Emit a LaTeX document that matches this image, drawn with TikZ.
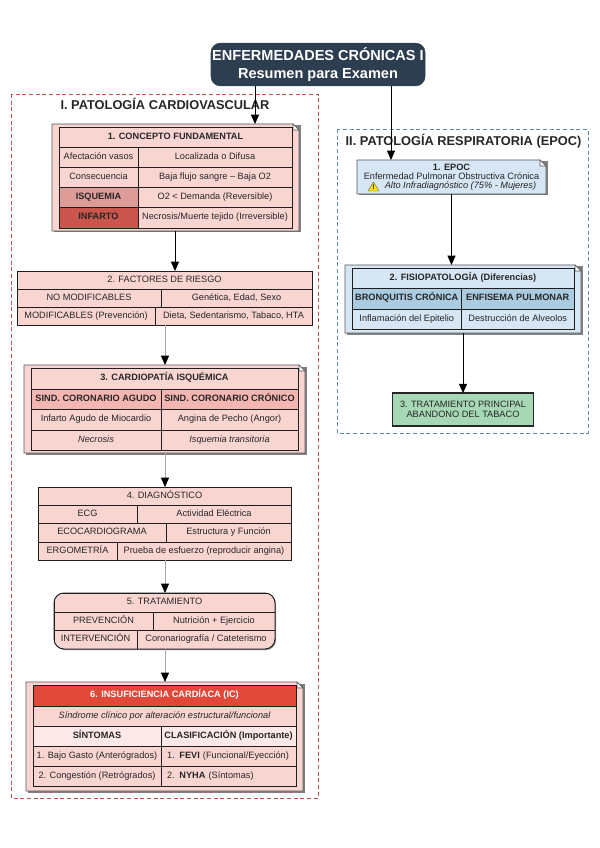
\documentclass[tikz,border=0pt]{standalone}
\usepackage{fontspec}
\setmainfont{Liberation Sans}
\usetikzlibrary{arrows.meta,calc}
\definecolor{navy}{HTML}{2C3E50}
\definecolor{redline}{HTML}{C0504D}
\definecolor{blueline}{HTML}{5B8FA8}
\definecolor{cellred}{HTML}{F9D5D2}
\definecolor{isq}{HTML}{DE9C98}
\definecolor{inf}{HTML}{C9554C}
\definecolor{headred}{HTML}{E2483A}
\definecolor{palered}{HTML}{FCE9E7}
\definecolor{headrose}{HTML}{F3B6B1}
\definecolor{cellblue}{HTML}{D6E6F4}
\definecolor{headblue}{HTML}{ABCBE0}
\definecolor{green1}{HTML}{A6D8B5}
\definecolor{edge}{HTML}{1E1E1E}
\newcommand{\fs}[1]{\fontsize{#1}{#1}\selectfont}
\tikzset{
  cellbox/.style={draw=edge,line width=0.6pt,inner sep=0pt,outer sep=0pt,align=center,text=black!85,text height=5pt,text depth=1.4pt},
  outerbox/.style={inner sep=0pt,outer sep=0pt},
  cluster/.style={dashed,dash pattern=on 3pt off 2pt,line width=0.6pt},
  arr/.style={line width=0.7pt,-{Triangle[length=7pt,width=6pt,black]}},
  arrg/.style={line width=0.6pt,black!35,-{Triangle[length=7pt,width=6pt,black]}},
  celltext/.style={font=\fs{6.9}},
  boldtext/.style={font=\fs{6.9}\bfseries},
  leftcell/.style={font=\fs{6.9},text width=92pt,align=left},
}
% \tcell[opts]{name}{x1}{y1}{x2}{y2}{fill}{text}
\newcommand{\tcell}[8][celltext]{%
  \pgfmathsetmacro{\cw}{(#5-#3)*0.75}\pgfmathsetmacro{\ch}{(#6-#4)*0.75}%
  \node[cellbox,#1,fill=#7,minimum width=\cw pt,minimum height=\ch pt] (#2) at ({(#3+#5)/2},{(#4+#6)/2}) {#8};}
% \notebox{name}{x1}{y1}{x2}{y2}{fill}
\newcommand{\notebox}[6]{%
  \pgfmathsetmacro{\cw}{(#4-#2)*0.75}\pgfmathsetmacro{\ch}{(#5-#3)*0.75}%
  \node[outerbox,minimum width=\cw pt,minimum height=\ch pt] (#1) at ({(#2+#4)/2},{(#3+#5)/2}) {};
  \fill[black!50] (#2+1.5,#3+1.5) rectangle (#4+1.5,#5+1.5);
  \draw[fill=#6,draw=black!65,line width=0.6pt] (#2,#3) -- (#4-6,#3) -- (#4,#3+6) -- (#4,#5) -- (#2,#5) -- cycle;
  \draw[draw=black!65,line width=0.4pt,fill=white] (#4-6,#3) -- (#4-6,#3+6) -- (#4,#3+6) -- cycle;}
% \plainbox{name}{x1}{y1}{x2}{y2}
\newcommand{\plainbox}[5]{%
  \pgfmathsetmacro{\cw}{(#4-#2)*0.75}\pgfmathsetmacro{\ch}{(#5-#3)*0.75}%
  \node[outerbox,minimum width=\cw pt,minimum height=\ch pt] (#1) at ({(#2+#4)/2},{(#3+#5)/2}) {};
  \fill[black!50] (#2+1,#3+1) rectangle (#4+1,#5+1);}
\begin{document}
\begin{tikzpicture}[x=0.75pt,y=-0.75pt]
\useasboundingbox (0,0) rectangle (599,848);
\fill[white] (0,0) rectangle (599,848);

% clusters
\draw[cluster,draw=redline] (11,94) rectangle (318,798);
\draw[cluster,draw=blueline] (337,129) rectangle (588,433);
\node[font=\fs{9.6}\bfseries,text=black!85,inner sep=0pt] (lefttitle) at (165,104) {I. PATOLOGÍA CARDIOVASCULAR};
\node[font=\fs{9.6}\bfseries,text=black!85,inner sep=0pt] (righttitle) at (463.5,141) {II. PATOLOGÍA RESPIRATORIA (EPOC)};

% title
\node[draw=navy,fill=navy,rounded corners=7pt,text=white,align=center,font=\fs{10.9}\bfseries,inner sep=0pt,outer sep=0pt,minimum width=160.5pt,minimum height=32pt] (title) at (318,64.5) {ENFERMEDADES CRÓNICAS I\\[2pt]Resumen para Examen};

% box 1
\notebox{boxa}{52}{124}{299}{231}{cellred}
\tcell[boldtext]{a0}{59}{127}{292}{147}{cellred}{1. CONCEPTO FUNDAMENTAL}
\tcell{a1}{59}{147}{138}{167}{cellred}{Afectación vasos}
\tcell{a2}{138}{147}{292}{167}{cellred}{Localizada o Difusa}
\tcell{a3}{59}{167}{138}{187}{cellred}{Consecuencia}
\tcell{a4}{138}{167}{292}{187}{cellred}{Baja flujo sangre – Baja O2}
\tcell[boldtext]{a5}{59}{187}{138}{207}{isq}{ISQUEMIA}
\tcell{a6}{138}{187}{292}{207}{cellred}{O2 < Demanda (Reversible)}
\tcell[boldtext]{a7}{59}{207}{138}{228}{inf}{INFARTO}
\tcell{a8}{138}{207}{292}{228}{cellred}{Necrosis/Muerte tejido (Irreversible)}

% box 2
\plainbox{boxb}{17}{271}{312}{325}
\tcell{b0}{17}{271}{312}{289}{cellred}{2. FACTORES DE RIESGO}
\tcell{b1}{17}{289}{161}{307}{cellred}{NO MODIFICABLES}
\tcell{b2}{161}{289}{312}{307}{cellred}{Genética, Edad, Sexo}
\tcell{b3}{17}{307}{155}{325}{cellred}{MODIFICABLES (Prevención)}
\tcell{b4}{155}{307}{312}{325}{cellred}{Dieta, Sedentarismo, Tabaco, HTA}

% box 3
\notebox{boxc}{24}{365}{305}{453}{cellred}
\tcell[boldtext]{c0}{31}{368}{298}{389}{cellred}{3. CARDIOPATÍA ISQUÉMICA}
\tcell[boldtext]{c1}{31}{389}{161}{409}{headrose}{SIND. CORONARIO AGUDO}
\tcell[boldtext]{c2}{161}{389}{298}{409}{headrose}{SIND. CORONARIO CRÓNICO}
\tcell{c3}{31}{409}{161}{430}{cellred}{Infarto Agudo de Miocardio}
\tcell{c4}{161}{409}{298}{430}{cellred}{Angina de Pecho (Angor)}
\tcell{c5}{31}{430}{161}{450}{cellred}{\itshape Necrosis}
\tcell{c6}{161}{430}{298}{450}{cellred}{\itshape Isquemia transitoria}

% box 4
\plainbox{boxd}{38}{487}{291}{560}
\tcell{d0}{38}{487}{291}{505}{cellred}{4. DIAGNÓSTICO}
\tcell{d1}{38}{505}{137}{523}{cellred}{ECG}
\tcell{d2}{137}{505}{291}{523}{cellred}{Actividad Eléctrica}
\tcell{d3}{38}{523}{166}{542}{cellred}{ECOCARDIOGRAMA}
\tcell{d4}{166}{523}{291}{542}{cellred}{Estructura y Función}
\tcell{d5}{38}{542}{117}{560}{cellred}{ERGOMETRÍA}
\tcell{d6}{117}{542}{291}{560}{cellred}{Prueba de esfuerzo (reproducir angina)}

% box 5
\fill[black!50,rounded corners=7.5pt] (55,594) rectangle (276,650);
\begin{scope}
\clip[rounded corners=7.5pt] (54,593) rectangle (275,649);
\tcell{e0}{54}{593}{275}{612}{cellred}{5. TRATAMIENTO}
\tcell{e1}{54}{612}{153}{630}{cellred}{PREVENCIÓN}
\tcell{e2}{153}{612}{275}{630}{cellred}{Nutrición + Ejercicio}
\tcell{e3}{54}{630}{137}{649}{cellred}{INTERVENCIÓN}
\tcell{e4}{137}{630}{275}{649}{cellred}{Coronariografía / Cateterismo}
\end{scope}
\node[draw=edge,line width=0.7pt,rounded corners=7.5pt,inner sep=0pt,outer sep=0pt,minimum width=165.75pt,minimum height=42pt] (boxe) at (164.5,621) {};

% box 6
\notebox{boxf}{26}{682}{303}{791}{cellred}
\tcell[font=\fs{6.9}\bfseries,text=white]{f0}{33}{685}{296}{706}{headred}{6. INSUFICIENCIA CARDÍACA (IC)}
\tcell{f1}{33}{706}{296}{726}{cellred}{\itshape Síndrome clínico por alteración estructural/funcional}
\tcell[boldtext]{f2}{33}{726}{161}{746}{palered}{SÍNTOMAS}
\tcell[boldtext]{f3}{161}{726}{296}{746}{palered}{CLASIFICACIÓN (Importante)}
\tcell{f4}{33}{746}{161}{766}{cellred}{1. Bajo Gasto (Anterógrados)}
\tcell[leftcell]{f5}{161}{746}{296}{766}{cellred}{1. \textbf{FEVI} (Funcional/Eyección)}
\tcell{f6}{33}{766}{161}{786}{cellred}{2. Congestión (Retrógrados)}
\tcell[leftcell]{f7}{161}{766}{296}{786}{cellred}{2. \textbf{NYHA} (Síntomas)}

% EPOC
\notebox{epoc}{357}{160}{546}{194}{cellblue}
\node[inner sep=0pt,align=center,font=\fs{6.9},text=black!85] (epoct) at (451.5,177) {\textbf{1. EPOC}\\[-0.2pt]Enfermedad Pulmonar Obstructiva Crónica\\[-0.2pt]\hspace*{13.5pt}\itshape Alto Infradiagnóstico (75\% - Mujeres)};
\draw[fill=yellow!85!orange,draw=black!60,line width=0.3pt,line join=round] (368,191) -- (373.5,182) -- (379,191) -- cycle;
\node[inner sep=0pt,font=\fs{5}\bfseries] (warn) at (373.5,187.5) {!};

% Fisiopatologia
\notebox{fisio}{345}{265}{581}{333}{cellblue}
\tcell[boldtext]{g0}{352}{268}{574}{288}{cellblue}{2. FISIOPATOLOGÍA (Diferencias)}
\tcell[boldtext]{g1}{352}{288}{461.5}{309}{headblue}{BRONQUITIS CRÓNICA}
\tcell[boldtext]{g2}{461.5}{288}{574}{309}{headblue}{ENFISEMA PULMONAR}
\tcell{g3}{352}{309}{461.5}{329}{cellblue}{Inflamación del Epitelio}
\tcell{g4}{461.5}{309}{574}{329}{cellblue}{Destrucción de Alveolos}

% Tratamiento
\node[draw=black!85,fill=green1,line width=1.1pt,inner sep=0pt,outer sep=0pt,align=center,font=\fs{6.9},text=black!85,minimum width=106pt,minimum height=24.5pt] (trat) at (463,409.5) {3. TRATAMIENTO PRINCIPAL\\[1pt]ABANDONO DEL TABACO};

% connector anchors
\coordinate (xa) at (255,0);
\coordinate (xb) at (175,0);
\coordinate (xc) at (165,0);
\coordinate (xd) at (391,0);
\coordinate (xe) at (451.5,0);
\coordinate (xf) at (463,0);

\draw[arr] (title.south -| xa) -- (boxa.north -| xa);
\draw[arr] (boxa.south -| xb) -- (boxb.north -| xb);
\draw[arrg] (boxb.south -| xc) -- (boxc.north -| xc);
\draw[arrg] (boxc.south -| xc) -- (boxd.north -| xc);
\draw[arrg] (boxd.south -| xc) -- (boxe.north -| xc);
\draw[arrg] (boxe.south -| xc) -- (boxf.north -| xc);
\draw[arr] (title.south -| xd) -- (epoc.north -| xd);
\draw[arr] (epoc.south -| xe) -- (fisio.north -| xe);
\draw[arr] (fisio.south -| xf) -- (trat.north -| xf);
\end{tikzpicture}
\end{document}
